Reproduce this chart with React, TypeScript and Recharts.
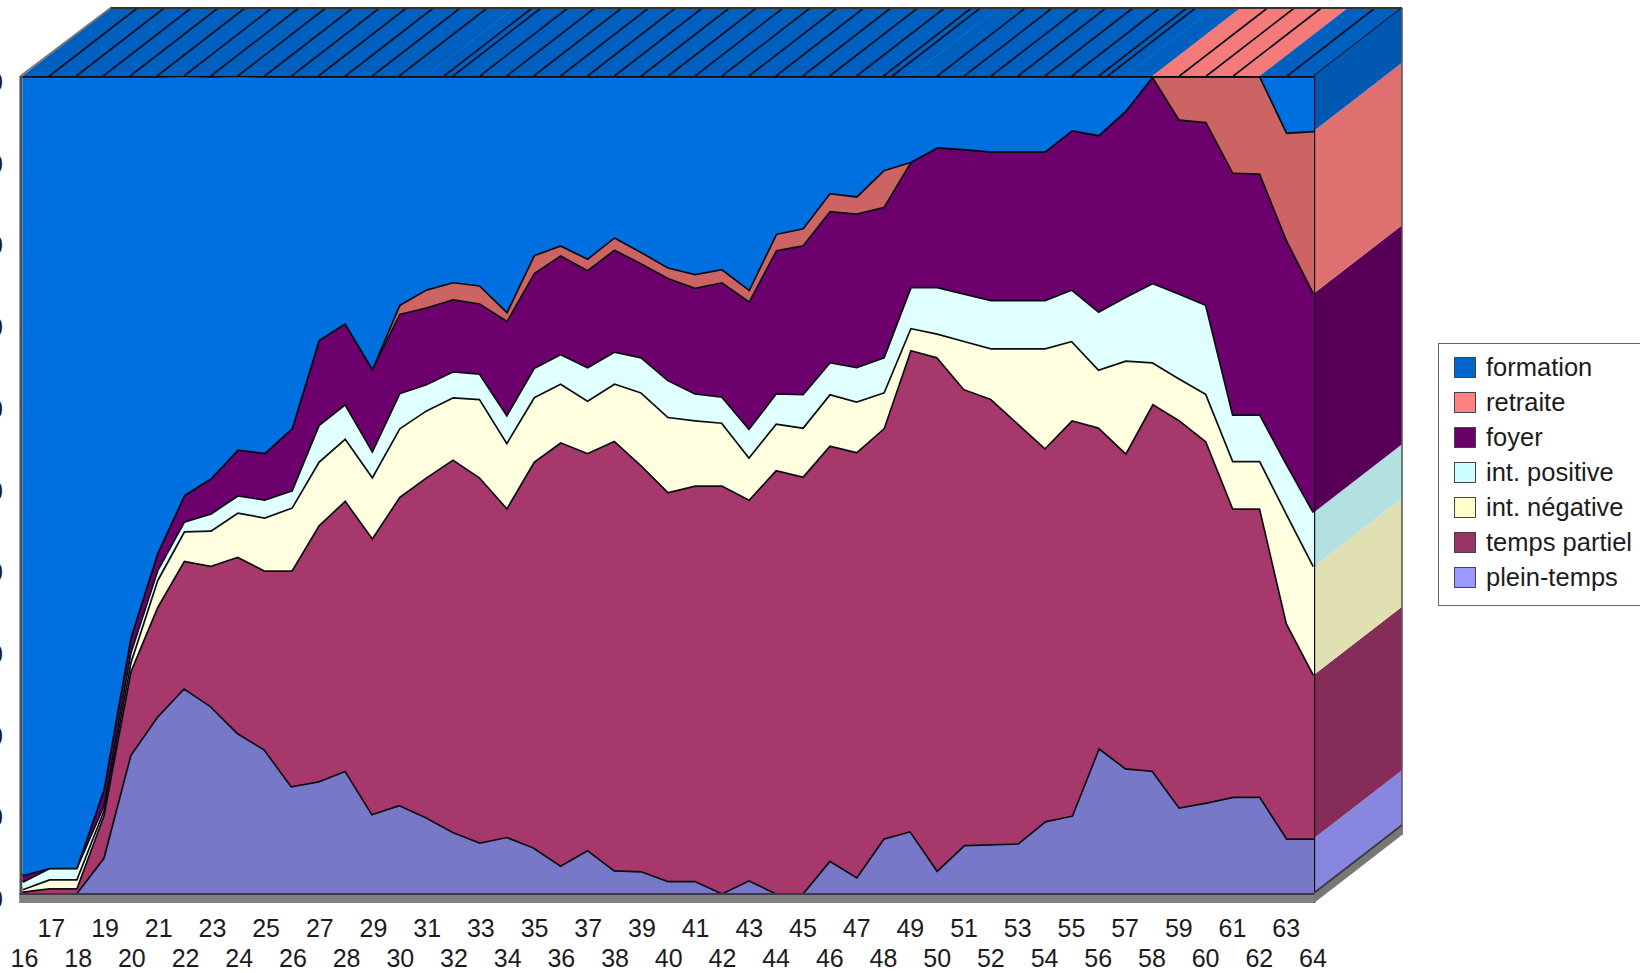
import { AreaChart, Area, XAxis, YAxis, Legend, useXAxisScale, useYAxisScale } from 'recharts';

// ---------------------------------------------------------------------------
// Data: share of each activity status (%) by age
// ---------------------------------------------------------------------------

const ages = [
  16, 17, 18, 19, 20, 21, 22, 23, 24, 25, 26, 27, 28, 29, 30, 31, 32, 33, 34, 35, 36, 37, 38, 39, 40,
  41, 42, 43, 44, 45, 46, 47, 48, 49, 50, 51, 52, 53, 54, 55, 56, 57, 58, 59, 60, 61, 62, 63, 64,
];

const pleinTemps = [
  0, 0, 0, 4.3, 16.9, 21.6, 25.1, 22.9, 19.6, 17.6, 13.1, 13.7, 15.0, 9.7, 10.8, 9.3, 7.5, 6.2, 6.9, 5.6,
  3.4, 5.3, 2.8, 2.7, 1.5, 1.5, 0, 1.6, 0, 0, 4.0, 2.0, 6.7, 7.6, 2.8, 5.9, 6.0, 6.1, 8.8, 9.5,
  17.8, 15.3, 15.0, 10.5, 11.1, 11.8, 11.8, 6.7, 6.7,
];
const tempsPartiel = [
  0.2, 0.6, 0.6, 5.2, 10.2, 13.4, 15.6, 17.2, 21.6, 21.9, 26.4, 31.3, 33.1, 33.8, 37.7, 41.6, 45.6, 44.7, 40.3, 47.2,
  51.8, 48.6, 52.6, 49.7, 47.6, 48.4, 49.9, 46.6, 51.8, 51.0, 50.8, 52.0, 50.2, 58.9, 62.8, 55.8, 54.5, 51.4, 45.7, 48.4,
  39.2, 38.6, 44.9, 47.4, 44.2, 35.3, 35.3, 26.3, 20.0,
];
const intNegative = [
  0.3, 1.1, 1.1, 0.6, 1.1, 3.3, 3.6, 4.3, 5.4, 6.5, 7.7, 7.8, 7.6, 7.5, 8.4, 8.2, 7.6, 9.6, 8.0, 7.9,
  7.2, 6.4, 7.0, 8.9, 9.2, 8.0, 7.7, 5.2, 5.7, 6.0, 6.3, 6.2, 4.4, 2.7, 2.9, 5.9, 6.2, 9.2, 12.2, 9.7,
  7.1, 11.3, 5.1, 5.1, 5.8, 5.8, 5.8, 13.4, 13.3,
];
const intPositive = [
  0.9, 1.4, 1.4, 0.6, 1.2, 1.2, 1.2, 2.1, 2.1, 2.2, 2.1, 4.5, 4.2, 3.2, 4.3, 3.2, 3.2, 3.1, 3.4, 3.6,
  3.6, 4.1, 3.9, 4.3, 4.5, 3.3, 3.2, 3.5, 3.7, 4.1, 3.9, 4.2, 4.3, 5.0, 5.7, 5.8, 5.9, 5.9, 5.9, 6.3,
  7.1, 7.8, 9.7, 10.4, 10.9, 5.7, 5.7, 6.1, 6.6,
];
const foyer = [
  0.8, 0, 0, 1.9, 1.8, 2.1, 3.2, 4.3, 5.6, 5.7, 7.6, 10.4, 9.9, 10.1, 9.7, 9.4, 8.8, 8.6, 11.5, 11.6,
  12.1, 11.9, 12.5, 11.5, 12.5, 12.9, 14.0, 15.6, 17.5, 18.2, 18.5, 18.8, 18.4, 15.3, 17.1, 17.7, 18.2, 18.2, 18.2, 19.5,
  21.6, 22.8, 25.3, 21.3, 22.4, 29.6, 29.5, 27.4, 26.8,
];
const retraite = [
  0, 0, 0, 0, 0, 0, 0, 0, 0, 0, 0, 0, 0, 0, 1.1, 2.2, 2.1, 2.2, 1.1, 2.2,
  1.2, 1.4, 1.5, 1.4, 1.3, 1.7, 1.6, 1.4, 2.0, 2.1, 2.2, 2.1, 4.5, 0, 0, 0, 0, 0, 0, 0,
  0, 0, 0, 5.3, 5.6, 11.8, 11.9, 13.2, 19.9,
];
const formation = [
  97.8, 96.9, 96.9, 87.4, 68.8, 58.4, 51.4, 49.2, 45.8, 46.1, 43.1, 32.3, 30.2, 35.7, 28.0, 26.1, 25.2, 25.6, 28.8, 21.9,
  20.7, 22.3, 19.7, 21.5, 23.4, 24.2, 23.6, 26.1, 19.3, 18.6, 14.3, 14.7, 11.5, 10.5, 8.7, 8.9, 9.2, 9.2, 9.2, 6.6,
  7.2, 4.2, 0, 0, 0, 0, 0, 6.9, 6.7,
];

const percentTicks = [0, 10, 20, 30, 40, 50, 60, 70, 80, 90, 100];

// Ridge lines on the roof that sit between two ages
const shiftedRidges: Record<number, number> = { 31: 31.67, 49: 48.33, 57: 56.33 };
const ridgelessAges = [16, 58, 62];

// ---------------------------------------------------------------------------
// Series styling, bottom of the stack first
// ---------------------------------------------------------------------------

const SERIES = [
  { key: 'pleinTemps', name: 'plein-temps', values: pleinTemps, front: '#7878C9', side: '#8787DF', swatch: '#9999FF' },
  { key: 'tempsPartiel', name: 'temps partiel', values: tempsPartiel, front: '#A7386C', side: '#852C58', swatch: '#993366' },
  { key: 'intNegative', name: 'int. négative', values: intNegative, front: '#FFFFE0', side: '#E0E0B3', swatch: '#FFFFCC' },
  { key: 'intPositive', name: 'int. positive', values: intPositive, front: '#E0FFFF', side: '#B3E0E0', swatch: '#CCFFFF' },
  { key: 'foyer', name: 'foyer', values: foyer, front: '#6E006E', side: '#580058', swatch: '#660066' },
  { key: 'retraite', name: 'retraite', values: retraite, front: '#CC6464', side: '#DE7070', swatch: '#FF8080' },
  { key: 'formation', name: 'formation', values: formation, front: '#0070E0', side: '#0058B0', swatch: '#0066CC' },
];

const chartData = ages.map((age, i) => {
  const row: Record<string, number> = { age };
  SERIES.forEach((s) => {
    row[s.key] = s.values[i];
  });
  return row;
});

const FONT = '"Liberation Sans", Arial, sans-serif';
const TEXT_COLOR = '#1c1c1c';
const EDGE_COLOR = '#0c0c14';
const DEPTH_X = 88;
const DEPTH_Y = -68;
const FLOOR = 10;

// ---------------------------------------------------------------------------
// Extruded faces: roof, right wall, floor and left edge
// ---------------------------------------------------------------------------

function quad(pts: [number, number][]) {
  return pts.map((p) => p.join(',')).join(' ');
}

function DepthFaces() {
  const xScale = useXAxisScale();
  const yScale = useYAxisScale();
  if (!xScale || !yScale) return null;

  const x = (age: number) => xScale(age) as number;
  const y = (v: number) => yScale(v) as number;
  const at = (age: number) => {
    const lo = Math.floor(age);
    return lo === age ? x(age) : x(lo) + (age - lo) * (x(lo + 1) - x(lo));
  };

  const left = x(ages[0]);
  const right = x(ages[ages.length - 1]);
  const top = y(100);
  const bottom = y(0);
  const last = ages.length - 1;

  // right wall bands, from the stacked totals of the last age
  let level = 0;
  const wall = SERIES.map((s) => {
    const from = level;
    level += s.values[last];
    return { key: s.key, fill: s.side, low: y(from), high: y(level) };
  });

  // roof stays retraite only while formation is empty at both ends of the step
  const roof = ages.slice(0, -1).map((age, i) => ({
    age,
    next: ages[i + 1],
    fill: formation[i] === 0 && formation[i + 1] === 0 ? '#F57A7A' : '#0060C0',
  }));

  return (
    <g>
      {roof.map((r) => (
        <polygon
          key={r.age}
          points={quad([
            [x(r.age), top],
            [x(r.next), top],
            [x(r.next) + DEPTH_X, top + DEPTH_Y],
            [x(r.age) + DEPTH_X, top + DEPTH_Y],
          ])}
          fill={r.fill}
          stroke={r.fill}
          strokeWidth={0.5}
        />
      ))}
      {ages
        .filter((age) => !ridgelessAges.includes(age))
        .map((age) => {
          const rx = at(shiftedRidges[age] ?? age);
          return (
            <line key={age} x1={rx} y1={top} x2={rx + DEPTH_X} y2={top + DEPTH_Y} stroke="#07101f" strokeWidth={1.6} />
          );
        })}
      {wall.map((w) => (
        <polygon
          key={w.key}
          points={quad([
            [right, w.low],
            [right, w.high],
            [right + DEPTH_X, w.high + DEPTH_Y],
            [right + DEPTH_X, w.low + DEPTH_Y],
          ])}
          fill={w.fill}
        />
      ))}
      <line x1={right} y1={top} x2={right} y2={bottom + FLOOR} stroke="#14101a" strokeWidth={2.4} />
      <line x1={right + DEPTH_X} y1={top + DEPTH_Y} x2={right + DEPTH_X} y2={bottom + DEPTH_Y + FLOOR} stroke="#555" strokeWidth={1.5} />
      <line x1={left + DEPTH_X} y1={top + DEPTH_Y} x2={right + DEPTH_X} y2={top + DEPTH_Y} stroke="#333" strokeWidth={1.8} />
      <line x1={left - 2} y1={top} x2={left + DEPTH_X} y2={top + DEPTH_Y} stroke="#777" strokeWidth={1.8} />
      <rect x={left - 3} y={top} width={3} height={bottom - top + FLOOR} fill="#4c4c4c" />
      <rect x={left - 3} y={bottom} width={right - left + 3} height={FLOOR} fill="#808080" />
      <line x1={left - 3} y1={bottom + 1} x2={right} y2={bottom + 1} stroke="#3a3a40" strokeWidth={2} />
      <polygon
        points={quad([
          [right, bottom],
          [right + DEPTH_X, bottom + DEPTH_Y],
          [right + DEPTH_X, bottom + DEPTH_Y + FLOOR],
          [right, bottom + FLOOR],
        ])}
        fill="#777"
      />
      <line x1={right} y1={bottom} x2={right + DEPTH_X} y2={bottom + DEPTH_Y} stroke="#3a3a40" strokeWidth={1.8} />
    </g>
  );
}

// ---------------------------------------------------------------------------
// Axis ticks and legend
// ---------------------------------------------------------------------------

/** Ages alternate between two rows so they fit side by side; labels drift slightly left along the axis. */
function AgeTick({ x, payload }: { x?: number; payload?: { value: number } }) {
  const value = payload?.value ?? 0;
  return (
    <text
      x={(x ?? 0) + 2 - (value - 16) * 0.0625}
      y={value % 2 === 1 ? 937 : 967}
      textAnchor="middle"
      fontFamily={FONT}
      fontSize={25}
      fill={TEXT_COLOR}
    >
      {value}
    </text>
  );
}

function PercentTick({ y, payload }: { y?: number; payload?: { value: number } }) {
  return (
    <text x={3} y={(y ?? 0) + 15} textAnchor="end" fontFamily={FONT} fontSize={25} fill={TEXT_COLOR}>
      {payload?.value}
    </text>
  );
}

function StatusLegend() {
  return (
    <div
      style={{
        boxSizing: 'border-box',
        width: 220,
        height: 263,
        border: '1px solid #666',
        background: '#fff',
        paddingTop: 6,
        paddingLeft: 15,
        fontFamily: FONT,
        fontSize: 25.5,
        color: TEXT_COLOR,
      }}
    >
      {[...SERIES].reverse().map((s) => (
        <div key={s.key} style={{ display: 'flex', alignItems: 'center', height: 35, whiteSpace: 'nowrap' }}>
          <span
            style={{
              boxSizing: 'border-box',
              width: 22,
              height: 21,
              marginRight: 10,
              background: s.swatch,
              border: '1px solid #444',
            }}
          />
          {s.name}
        </div>
      ))}
    </div>
  );
}

// ---------------------------------------------------------------------------
// Component
// ---------------------------------------------------------------------------

export default function App() {
  return (
    <div style={{ position: 'absolute', left: 0, top: 0, width: 1640, height: 973, overflow: 'hidden', background: '#fff' }}>
      <AreaChart width={1640} height={973} data={chartData} margin={{ top: 76, right: 326, bottom: 0, left: 0 }}>
        <XAxis dataKey="age" interval={0} axisLine={false} tickLine={false} tick={<AgeTick />} height={80} />
        <YAxis domain={[0, 100]} ticks={percentTicks} axisLine={false} tickLine={false} tick={<PercentTick />} width={22.5} allowDataOverflow />
        <Legend
          layout="vertical"
          align="center"
          verticalAlign="middle"
          content={<StatusLegend />}
          wrapperStyle={{ left: 1438, top: 343, width: 220, height: 263 }}
        />
        {SERIES.map((s) => (
          <Area
            key={s.key}
            type="linear"
            dataKey={s.key}
            name={s.name}
            stackId="statuses"
            fill={s.front}
            fillOpacity={1}
            stroke={EDGE_COLOR}
            strokeWidth={3.4}
            dot={false}
            activeDot={false}
            isAnimationActive={false}
          />
        ))}
        <DepthFaces />
      </AreaChart>
    </div>
  );
}
